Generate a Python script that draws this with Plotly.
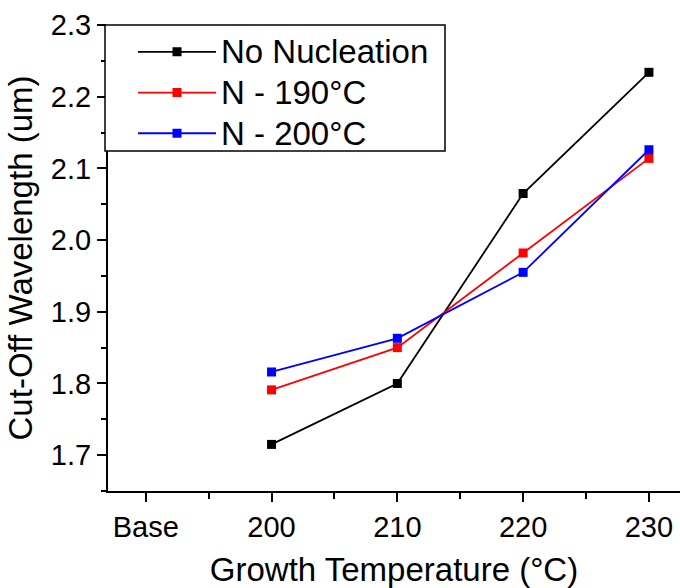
import plotly.graph_objects as go

# Growth temperature categories ("Base" sits one step left of 200 °C)
tick_positions = [190, 200, 210, 220, 230]
tick_labels = ["Base", "200", "210", "220", "230"]

temperatures = [200, 210, 220, 230]

no_nucleation = [1.715, 1.800, 2.065, 2.234]
n_190 = [1.791, 1.850, 1.982, 2.114]
n_200 = [1.816, 1.863, 1.955, 2.126]

series = [
    ("No Nucleation", no_nucleation, "#000000"),
    ("N - 190°C", n_190, "#ff0000"),
    ("N - 200°C", n_200, "#0000ff"),
]

FONT = "Arial, Liberation Sans, sans-serif"

# plot-area geometry in pixels
W, H = 680, 588
L, R, T, B = 108, 0, 25, 97
PW, PH = W - L - R, H - T - B


def px_x(x):
    return (x - L) / PW


def px_y(y):
    return (H - B - y) / PH


fig = go.Figure()
for name, values, color in series:
    fig.add_trace(go.Scatter(
        x=temperatures, y=values,
        name=f'<span style="font-size:33px">{name}</span>',
        mode="lines+markers",
        line=dict(color=color, width=1.8),
        marker=dict(symbol="square", size=9, color=color),
    ))

axis_common = dict(
    showline=True, linecolor="black", linewidth=2,
    ticks="outside", ticklen=9, tickwidth=1.8, tickcolor="black",
    showgrid=False, zeroline=False,
    tickfont=dict(family=FONT, size=29, color="black"),
)

fig.update_xaxes(
    **axis_common,
    range=[187.0, 232.47],
    tickvals=tick_positions, ticktext=tick_labels,
    minor=dict(ticks="outside", ticklen=6, tickwidth=1.8, tickcolor="black", dtick=5, tick0=190),
    title=dict(text="Growth Temperature (°C)", font=dict(family=FONT, size=33, color="black"), standoff=18),
)
fig.update_yaxes(
    **axis_common,
    range=[1.65, 2.3],
    tickvals=[1.7, 1.8, 1.9, 2.0, 2.1, 2.2, 2.3],
    ticktext=["1.7", "1.8", "1.9", "2.0", "2.1", "2.2", "2.3"],
    minor=dict(ticks="outside", ticklen=5, tickwidth=1.8, tickcolor="black", dtick=0.05, tick0=1.65),
    title=dict(text="Cut-Off Wavelength (um)", font=dict(family=FONT, size=33, color="black"), standoff=8),
)

# legend frame, drawn as a white box over the upper-left corner of the axes
fig.add_shape(
    type="rect", xref="paper", yref="paper", layer="above",
    x0=px_x(105), x1=px_x(445), y0=px_y(151), y1=px_y(25),
    line=dict(color="black", width=1.5), fillcolor="white",
)

fig.update_layout(
    width=W, height=H,
    margin=dict(l=L, r=R, t=T, b=B, autoexpand=False),
    paper_bgcolor="white", plot_bgcolor="white",
    showlegend=True,
    legend=dict(
        x=px_x(133), y=px_y(26.5), xanchor="left", yanchor="top",
        bgcolor="rgba(0,0,0,0)", borderwidth=0,
        font=dict(family=FONT, size=29, color="black"),
        itemwidth=78, tracegroupgap=0,
    ),
)

fig.write_html("out.html")
